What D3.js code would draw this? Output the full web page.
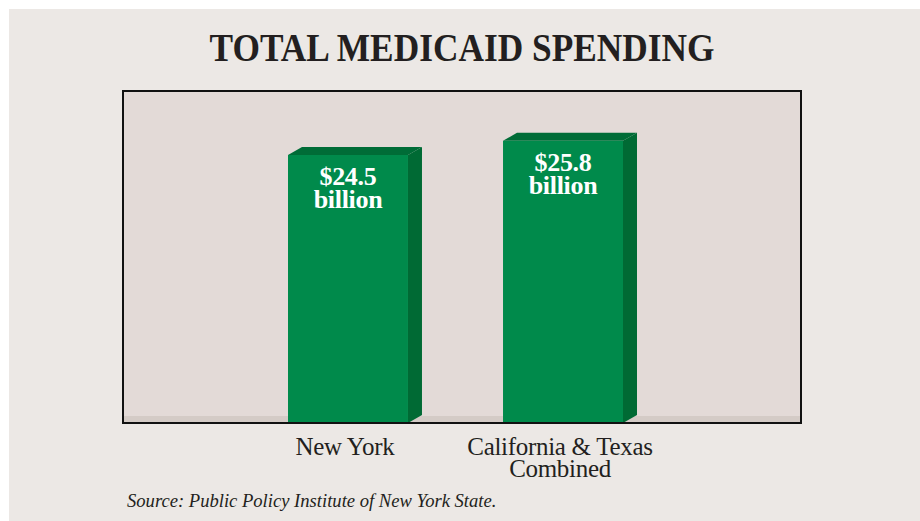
<!DOCTYPE html>
<html>
<head>
<meta charset="utf-8">
<script src="https://cdn.jsdelivr.net/npm/d3@7"></script>
<style>
  html, body { margin: 0; padding: 0; background: #ffffff; }
  svg { display: block; }
  text { font-family: "Liberation Serif", "DejaVu Serif", serif; }
</style>
</head>
<body>
<div id="chart"></div>
<script>
// data
const categories = ["New York", "California & Texas Combined"]
const catLines = [["New York"], ["California & Texas", "Combined"]]
const values = [24.5, 25.8]
const valueLabels = ["$24.5", "$25.8"]
const unitLabel = "billion"

const W = 920, H = 521
const plot = {left: 123, top: 91, right: 801, bottom: 423}
const depth = {dx: 14, dy: 8}

const svg = d3.select("#chart").append("svg")
  .attr("width", W)
  .attr("height", H)

// page background (small white margin top/left like the scan)
svg.append("rect")
  .attr("x", 9).attr("y", 9)
  .attr("width", W - 9).attr("height", H - 9)
  .attr("fill", "#ece8e5")

// title
svg.append("text")
  .attr("x", 462).attr("y", 61)
  .attr("text-anchor", "middle")
  .attr("font-size", 39)
  .attr("font-weight", "bold")
  .attr("fill", "#231f20")
  .attr("textLength", 505)
  .attr("lengthAdjust", "spacingAndGlyphs")
  .text("TOTAL MEDICAID SPENDING")

// scales
const x = d3.scaleBand()
  .domain(categories)
  .range([288, 623])
  .paddingInner(0.442)
  .paddingOuter(0)

const y = d3.scaleLinear()
  .domain([0, 30.35])
  .range([plot.bottom, plot.top])

// plot area
svg.append("rect")
  .attr("x", plot.left).attr("y", plot.top)
  .attr("width", plot.right - plot.left)
  .attr("height", plot.bottom - plot.top)
  .attr("fill", "#e3dad7")

// floor strip
svg.append("rect")
  .attr("x", plot.left).attr("y", plot.bottom - 7)
  .attr("width", plot.right - plot.left)
  .attr("height", 7)
  .attr("fill", "#d4cbc6")

// 3d bars
const bars = svg.append("g").attr("id", "bars")
  .selectAll("g")
  .data(values)
  .enter()
  .append("g")

// side face
bars.append("path")
  .attr("fill", "#006a34")
  .attr("d", function(d, i) {
    const x1 = x(categories[i]) + x.bandwidth()
    const yt = y(d), yb = y(0)
    return `M${x1},${yt} L${x1 + depth.dx},${yt - depth.dy} L${x1 + depth.dx},${yb - depth.dy} L${x1},${yb} Z`
  })

// top face
bars.append("path")
  .attr("fill", "#006c37")
  .attr("d", function(d, i) {
    const x0 = x(categories[i]), x1 = x0 + x.bandwidth()
    const yt = y(d)
    return `M${x0},${yt} L${x0 + depth.dx},${yt - depth.dy} L${x1 + depth.dx},${yt - depth.dy} L${x1},${yt} Z`
  })

// front face
bars.append("rect")
  .attr("x", function(_, i) { return x(categories[i]) })
  .attr("y", function(d) { return y(d) })
  .attr("width", x.bandwidth())
  .attr("height", function(d) { return y(0) - y(d) })
  .attr("fill", "#008a4b")

// value labels inside the bars
bars.append("text")
  .attr("x", function(_, i) { return x(categories[i]) + x.bandwidth() / 2 })
  .attr("y", function(d) { return y(d) + 30 })
  .attr("text-anchor", "middle")
  .attr("font-size", 26)
  .attr("font-weight", "bold")
  .attr("letter-spacing", -0.3)
  .attr("fill", "#ffffff")
  .text(function(_, i) { return valueLabels[i] })

bars.append("text")
  .attr("x", function(_, i) { return x(categories[i]) + x.bandwidth() / 2 })
  .attr("y", function(d) { return y(d) + 53 })
  .attr("text-anchor", "middle")
  .attr("font-size", 26)
  .attr("font-weight", "bold")
  .attr("letter-spacing", -0.3)
  .attr("fill", "#ffffff")
  .text(unitLabel)

// frame
svg.append("rect")
  .attr("x", plot.left).attr("y", plot.top)
  .attr("width", plot.right - plot.left)
  .attr("height", plot.bottom - plot.top)
  .attr("fill", "none")
  .attr("stroke", "#111")
  .attr("stroke-width", 2)

// category labels
const cat = svg.append("g").attr("id", "categories")
  .selectAll("text")
  .data(categories)
  .enter()
  .append("text")
  .attr("text-anchor", "middle")
  .attr("font-size", 25)
  .attr("letter-spacing", -0.3)
  .attr("fill", "#231f20")

cat.selectAll("tspan")
  .data(function(_, i) { return catLines[i].map(function(t) { return {t: t, i: i} }) })
  .enter()
  .append("tspan")
  .attr("x", function(d) { return x(categories[d.i]) + x.bandwidth() / 2 - 3 })
  .attr("y", function(_, j) { return 455 + j * 22 })
  .text(function(d) { return d.t })

// source note
svg.append("text")
  .attr("x", 127).attr("y", 507)
  .attr("font-size", 18.6)
  .attr("font-style", "italic")
  .attr("fill", "#231f20")
  .text("Source: Public Policy Institute of New York State.")
</script>
</body>
</html>
